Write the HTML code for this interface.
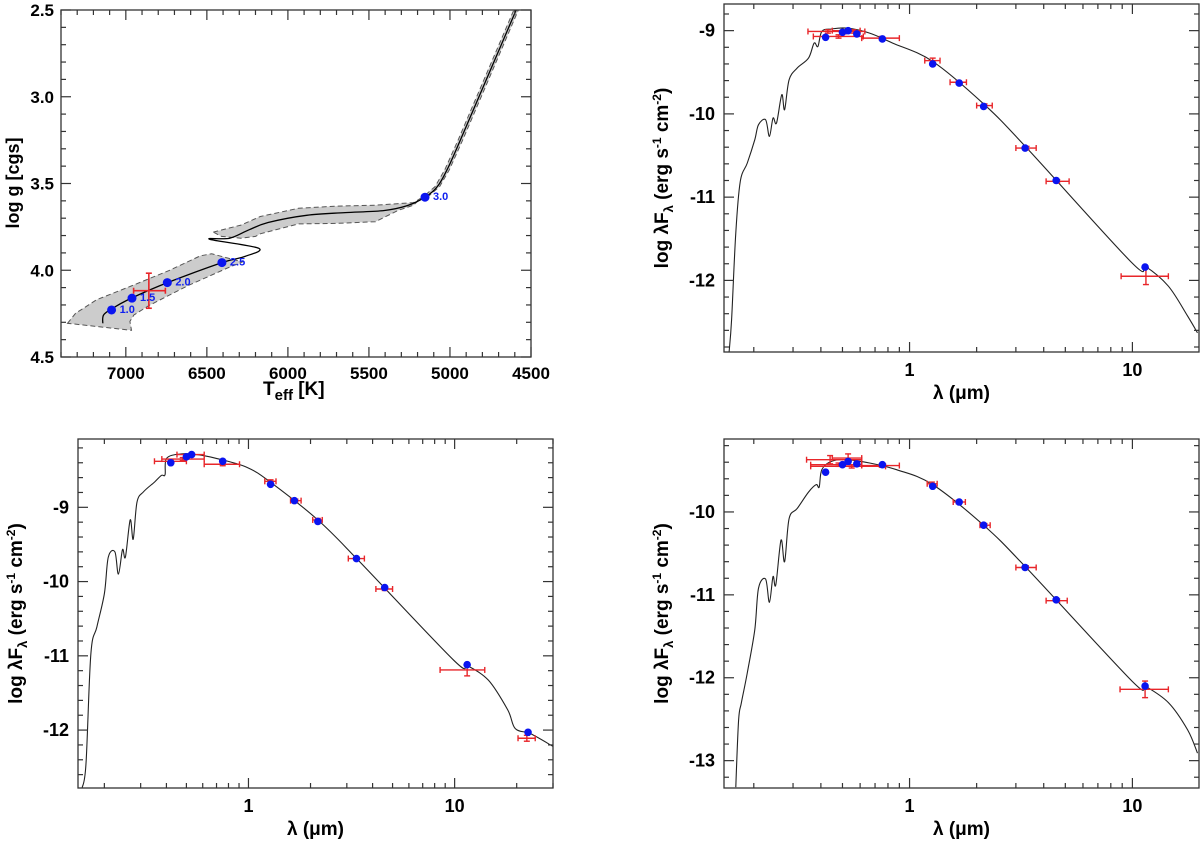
<!DOCTYPE html>
<html><head><meta charset="utf-8"><style>
html,body{margin:0;padding:0;background:#fff;}
svg{display:block;font-family:"Liberation Sans",Arial,sans-serif;}
</style></head><body>
<svg id="fig" width="1200" height="847" viewBox="0 0 1200 847" xmlns="http://www.w3.org/2000/svg"></svg>
<script>
// ---------- HR diagram data ----------
const trackT = [7142,7137,7083,6964,6739,6407,6264,6181,6483,6359,6240,6122,5884,5647,5410,5268,5154,5078,5018,4935,4591];
const trackG = [4.306,4.258,4.22,4.16,4.07,3.956,3.92,3.873,3.821,3.815,3.767,3.725,3.683,3.668,3.656,3.629,3.579,3.518,3.421,3.248,2.498];
const msBandT = [7360,7310,7180,6965,6730,6540,6470,6280,6380,6620,6860,6950,6975,6965,7360];
const msBandG = [4.306,4.248,4.17,4.09,4.0,3.917,3.905,3.952,3.99,4.09,4.205,4.258,4.295,4.346,4.306];
const sgBandT = [6460,6290,6170,5935,5700,5460,5225,5180,5225,5320,5460,5700,5935,6170,6200,6290,6410];
const sgBandG = [3.78,3.74,3.69,3.643,3.63,3.625,3.61,3.585,3.625,3.655,3.72,3.73,3.733,3.79,3.805,3.815,3.805];
const massT = [7088,6962,6744,6407,5154];
const massG = [4.229,4.161,4.071,3.956,3.579];
const massLab = ["1.0","1.5","2.0","2.5","3.0"];
const obsT = [6858]; const obsTlo=[6952]; const obsThi=[6756];
const obsG = [4.118]; const obsGlo=[4.017]; const obsGhi=[4.219];

// ---------- SED panel B (top right) ----------
const bModLam = [0.155,0.159,0.166,0.174,0.187,0.202,0.21,0.226,0.235,0.244,0.253,0.267,0.275,0.288,0.313,0.352,0.373,0.388,0.404,0.446,0.522,0.662,0.84,1.27,2.17,3.36,9.96,11.4,14.5,17.7,19.6];
const bModF = [-12.86,-12.47,-11.43,-10.81,-10.59,-10.31,-10.13,-10.07,-10.27,-10.05,-10.11,-9.77,-9.95,-9.59,-9.45,-9.33,-9.15,-9.19,-9.01,-8.98,-8.97,-9.03,-9.15,-9.37,-9.89,-10.41,-11.79,-11.83,-12.07,-12.43,-12.63];
const bDotLam = [0.42,0.50,0.53,0.58,0.755,1.27,1.67,2.15,3.3,4.55,11.4];
const bDotF = [-9.08,-9.02,-9.0,-9.04,-9.1,-9.4,-9.63,-9.91,-10.41,-10.8,-11.84];
const bObsLam = [0.43,0.48,0.53,0.56,0.75,1.27,1.66,2.17,3.35,4.6,11.5];
const bObsF = [-9.01,-9.07,-9.0,-9.01,-9.09,-9.36,-9.62,-9.9,-10.41,-10.81,-11.95];
const bObsLo = [0.35,0.37,0.45,0.50,0.61,1.17,1.52,2.0,3.0,4.1,8.9];
const bObsHi = [0.52,0.62,0.60,0.63,0.90,1.37,1.80,2.35,3.7,5.2,14.5];
const bObsErr = [0.02,0.02,0.02,0.02,0.02,0.03,0.02,0.02,0.02,0.02,0.1];

// ---------- SED panel C (bottom left) ----------
const cModLam = [0.156,0.163,0.172,0.184,0.20,0.209,0.225,0.234,0.245,0.253,0.267,0.276,0.288,0.31,0.35,0.378,0.394,0.401,0.472,0.561,0.695,0.98,1.29,2.17,3.40,9.91,11.5,14.6,18.1,19.7,23.4,30];
const cModF = [-12.78,-12.45,-10.97,-10.61,-10.16,-9.67,-9.60,-9.90,-9.57,-9.67,-9.17,-9.43,-8.93,-8.79,-8.66,-8.57,-8.56,-8.34,-8.28,-8.29,-8.34,-8.46,-8.67,-9.17,-9.71,-11.06,-11.13,-11.33,-11.73,-11.98,-12.05,-12.22];
const cDotLam = [0.42,0.50,0.53,0.75,1.28,1.67,2.17,3.34,4.58,11.5,22.7];
const cDotF = [-8.40,-8.32,-8.29,-8.38,-8.69,-8.91,-9.19,-9.69,-10.08,-11.12,-12.03];
const cObsLam = [0.42,0.48,0.53,0.75,1.28,1.69,2.17,3.34,4.58,11.5,22.4];
const cObsF = [-8.38,-8.35,-8.29,-8.42,-8.65,-8.91,-9.17,-9.69,-10.1,-11.19,-12.11];
const cObsLo = [0.35,0.38,0.45,0.61,1.2,1.6,2.05,3.05,4.15,8.5,20.3];
const cObsHi = [0.50,0.61,0.61,0.905,1.36,1.8,2.28,3.65,5.0,14.0,24.6];
const cObsErr = [0.02,0.02,0.02,0.02,0.02,0.02,0.02,0.02,0.02,0.08,0.04];

// ---------- SED panel D (bottom right) ----------
const dModLam = [0.166,0.171,0.176,0.187,0.202,0.21,0.226,0.235,0.244,0.251,0.265,0.275,0.288,0.313,0.352,0.381,0.393,0.404,0.446,0.522,0.662,0.875,1.27,2.17,3.36,9.96,11.4,14.5,17.7,19.6];
const dModF = [-13.32,-12.51,-12.30,-11.94,-11.42,-10.92,-10.81,-11.09,-10.78,-10.88,-10.34,-10.60,-10.08,-9.96,-9.76,-9.67,-9.70,-9.49,-9.39,-9.37,-9.41,-9.49,-9.67,-10.17,-10.68,-12.04,-12.10,-12.30,-12.63,-12.91];
const dDotLam = [0.42,0.50,0.53,0.58,0.755,1.27,1.67,2.15,3.3,4.55,11.4];
const dDotF = [-9.52,-9.43,-9.39,-9.42,-9.43,-9.69,-9.88,-10.16,-10.67,-11.06,-12.10];
const dObsLam = [0.44,0.48,0.53,0.55,0.75,1.26,1.66,2.17,3.33,4.6,11.4];
const dObsF = [-9.37,-9.43,-9.35,-9.45,-9.44,-9.66,-9.88,-10.16,-10.67,-11.07,-12.14];
const dObsLo = [0.345,0.36,0.45,0.36,0.61,1.2,1.57,2.07,3.0,4.1,8.8];
const dObsHi = [0.61,0.61,0.61,0.78,0.90,1.33,1.78,2.3,3.7,5.1,14.5];
const dObsErr = [0.05,0.02,0.05,0.02,0.02,0.02,0.02,0.02,0.02,0.02,0.1];

const NS = "http://www.w3.org/2000/svg";
const svg = document.getElementById('fig');
function mk(tag, attrs, parent){ const e=document.createElementNS(NS,tag); for(const k in attrs) e.setAttribute(k,attrs[k]); (parent||svg).appendChild(e); return e; }
function smooth(pts){
  let d='M'+pts[0][0].toFixed(1)+','+pts[0][1].toFixed(1);
  for(let i=0;i<pts.length-1;i++){
    const p0=pts[Math.max(0,i-1)],p1=pts[i],p2=pts[i+1],p3=pts[Math.min(pts.length-1,i+2)];
    const c1=[p1[0]+(p2[0]-p0[0])/6,p1[1]+(p2[1]-p0[1])/6];
    const c2=[p2[0]-(p3[0]-p1[0])/6,p2[1]-(p3[1]-p1[1])/6];
    d+=' C'+c1[0].toFixed(1)+','+c1[1].toFixed(1)+' '+c2[0].toFixed(1)+','+c2[1].toFixed(1)+' '+p2[0].toFixed(1)+','+p2[1].toFixed(1);
  }
  return d;
}

function frame(g, b){
  const r = mk('rect',{x:b.x0,y:b.y0,width:b.x1-b.x0,height:b.y1-b.y0,fill:'none',stroke:'#333','stroke-width':1.3},g);
  
  
}
function tick(g,x1,y1,x2,y2){ mk('line',{x1:x1,y1:y1,x2:x2,y2:y2,stroke:'#333','stroke-width':1.2},g); }
function label(g,x,y,txt,anchor,name,size){
  const t=mk('text',{x:x,y:y,'text-anchor':anchor,'font-size':size||17,'font-weight':'bold',fill:'#000'},g);
  t.textContent=txt;
  
  
  return t;
}

// ---------- Panel A: HR diagram ----------
(function(){
  const g=mk('g',{});
  
  
  const b={x0:61,x1:531,y0:10,y1:357};
  const Tl=7400,Tr=4500,Gt=2.5,Gb=4.5;
  const X=T=>b.x0+(Tl-T)/(Tl-Tr)*(b.x1-b.x0);
  const Y=v=>b.y0+(v-Gt)/(Gb-Gt)*(b.y1-b.y0);
  const poly=(ts,gs)=>ts.map((t,i)=>X(t).toFixed(1)+','+Y(gs[i]).toFixed(1)).join(' ');
  const clip=mk('clipPath',{id:'clipA'},g); mk('rect',{x:b.x0,y:b.y0,width:b.x1-b.x0,height:b.y1-b.y0},clip);
  const inner=mk('g',{'clip-path':'url(#clipA)'},g);
  const ms=mk('polygon',{points:poly(msBandT,msBandG),fill:'#cccccc',stroke:'#555','stroke-width':1,'stroke-dasharray':'5,3'},inner);
  
  
  const sg=mk('polygon',{points:poly(sgBandT,sgBandG),fill:'#cccccc',stroke:'#555','stroke-width':1,'stroke-dasharray':'5,3'},inner);
  
  
  const rT=trackT.slice(16), rG=trackG.slice(16);
  const rgbPts=rT.map((t,i)=>X(t-14)+','+Y(rG[i])).concat(rT.slice().reverse().map((t,i)=>X(t+14)+','+Y(rG[rG.length-1-i])));
  const rgb=mk('polygon',{points:rgbPts.join(' '),fill:'#cccccc',stroke:'#555','stroke-width':1,'stroke-dasharray':'5,3'},inner);
  
  
  const tr=mk('path',{d:smooth(trackT.map((t,i)=>[X(t),Y(trackG[i])])),fill:'none',stroke:'#000','stroke-width':1.3},inner);
  
  
  const ox=X(obsT[0]),oy=Y(obsG[0]);
  const eg=mk('g',{stroke:'#e8262a','stroke-width':1.6},inner);
  
  
  mk('line',{x1:X(obsTlo[0]),y1:oy,x2:X(obsThi[0]),y2:oy},eg);
  mk('line',{x1:ox,y1:Y(obsGlo[0]),x2:ox,y2:Y(obsGhi[0])},eg);
  mk('line',{x1:X(obsTlo[0]),y1:oy-3,x2:X(obsTlo[0]),y2:oy+3},eg);
  mk('line',{x1:X(obsThi[0]),y1:oy-3,x2:X(obsThi[0]),y2:oy+3},eg);
  mk('line',{x1:ox-3,y1:Y(obsGlo[0]),x2:ox+3,y2:Y(obsGlo[0])},eg);
  mk('line',{x1:ox-3,y1:Y(obsGhi[0]),x2:ox+3,y2:Y(obsGhi[0])},eg);
  massT.forEach((t,i)=>{
    const c=mk('circle',{cx:X(t),cy:Y(massG[i]),r:4.5,fill:'#0a14f0'},inner);
    
    
    const l=mk('text',{x:X(t)+8,y:Y(massG[i])+3,'font-size':11,'font-weight':'bold',fill:'#1020f0'},inner);
    l.textContent=massLab[i];
    
    
  });
  frame(g,b);
  for(let v=2.5;v<=4.501;v+=0.1){
    const y=Y(v); const maj=Math.abs(v*2-Math.round(v*2))<0.01; const L=maj?10:5;
    tick(g,b.x0,y,b.x0+L,y); tick(g,b.x1,y,b.x1-L,y);
    if(maj) label(g,54,y+6,v.toFixed(1),'end','y-tick-label');
  }
  for(let T=7400;T>=4500;T-=100){
    const x=X(T); const maj=T%500===0; const L=maj?10:5;
    tick(g,x,b.y1,x,b.y1-L); tick(g,x,b.y0,x,b.y0+L);
    if(maj) label(g,x,379,String(T),'middle','x-tick-label');
  }
  const xl=mk('text',{x:263,y:395,'font-size':19,'font-weight':'bold'},g);
  xl.innerHTML='T<tspan font-size="15" dy="5">eff</tspan><tspan dy="-5"> [K]</tspan>';
  
  
  const yl=mk('text',{x:0,y:0,'font-size':18,'font-weight':'bold','text-anchor':'middle',transform:'translate(19,183) rotate(-90)'},g);
  yl.textContent='log g [cgs]';
  
  
})();

// ---------- SED panels ----------
function sed(id,b,lam0,lam1,F0,F1,yticks,labRight,ylabX,mLam,mF,dLam,dF,oLam,oF,oLo,oHi,oErr){
  const g=mk('g',{});
  
  
  const l0=Math.log10(lam0),l1=Math.log10(lam1);
  const X=l=>b.x0+(Math.log10(l)-l0)/(l1-l0)*(b.x1-b.x0);
  const Y=v=>b.y0+(F0-v)/(F0-F1)*(b.y1-b.y0);
  const cid='clip'+id;
  const clip=mk('clipPath',{id:cid},g); mk('rect',{x:b.x0,y:b.y0,width:b.x1-b.x0,height:b.y1-b.y0},clip);
  const inner=mk('g',{'clip-path':'url(#'+cid+')'},g);
  const m=mk('path',{d:smooth(mLam.map((l,i)=>[X(l),Y(mF[i])])),fill:'none',stroke:'#222','stroke-width':1.1},inner);
  
  
  oLam.forEach((l,i)=>{
    const e=mk('g',{stroke:'#e8262a','stroke-width':1.4},inner);
    
    
    const x=X(l),y=Y(oF[i]),xa=X(oLo[i]),xb=X(oHi[i]),ya=Y(oF[i]+oErr[i]),yb=Y(oF[i]-oErr[i]);
    mk('line',{x1:xa,y1:y,x2:xb,y2:y},e);
    mk('line',{x1:xa,y1:y-3,x2:xa,y2:y+3},e);
    mk('line',{x1:xb,y1:y-3,x2:xb,y2:y+3},e);
    mk('line',{x1:x,y1:ya-0.5,x2:x,y2:yb+0.5},e);
    mk('line',{x1:x-3,y1:ya,x2:x+3,y2:ya},e);
    mk('line',{x1:x-3,y1:yb,x2:x+3,y2:yb},e);
  });
  dLam.forEach((l,i)=>{
    const c=mk('circle',{cx:X(l),cy:Y(dF[i]),r:3.8,fill:'#0a14f0'},inner);
    
    
  });
  frame(g,b);
  for(let v=Math.ceil(F1*5)/5; v<=F0+1e-6; v+=0.2){
    const y=Y(v); const maj=Math.abs(v-Math.round(v))<0.01; const L=maj?10:5;
    tick(g,b.x0,y,b.x0+L,y); tick(g,b.x1,y,b.x1-L,y);
  }
  yticks.forEach(v=>label(g,labRight,Y(v)+6,String(v),'end','y-tick-label',18));
  for(let dec=-1;dec<=1;dec++){
    for(let k=1;k<=9;k++){
      const l=k*Math.pow(10,dec); if(l<lam0||l>lam1) continue;
      const x=X(l); const L=k===1?10:5;
      tick(g,x,b.y1,x,b.y1-L); tick(g,x,b.y0,x,b.y0+L);
      if(k===1) label(g,x,b.y1+24,String(l),'middle','x-tick-label',18);
    }
  }
  const xl=mk('text',{x:(b.x0+b.x1)/2,y:b.y1+47,'font-size':19,'font-weight':'bold','text-anchor':'middle'},g);
  xl.textContent='λ (μm)';
  
  
  const yl=mk('text',{x:0,y:0,'font-size':19,'font-weight':'bold','text-anchor':'middle',transform:'translate('+ylabX+','+((b.y0+b.y1)/2)+') rotate(-90)'},g);
  yl.innerHTML='log λF<tspan font-size="13" dy="5">λ</tspan><tspan dy="-5"> (erg s</tspan><tspan font-size="12" dy="-7">-1</tspan><tspan dy="7"> cm</tspan><tspan font-size="12" dy="-7">-2</tspan><tspan dy="7">)</tspan>';
  
  
}
sed('sed-panel-top-right',{x0:724,x1:1199,y0:4,y1:352},0.147,19.9,-8.68,-12.86,[-9,-10,-11,-12],715,668,bModLam,bModF,bDotLam,bDotF,bObsLam,bObsF,bObsLo,bObsHi,bObsErr);
sed('sed-panel-bottom-left',{x0:78,x1:553,y0:439,y1:788},0.149,30,-8.08,-12.78,[-9,-10,-11,-12],69,22,cModLam,cModF,cDotLam,cDotF,cObsLam,cObsF,cObsLo,cObsHi,cObsErr);
sed('sed-panel-bottom-right',{x0:724,x1:1199,y0:439,y1:788},0.147,19.9,-9.12,-13.33,[-10,-11,-12,-13],715,668,dModLam,dModF,dDotLam,dDotF,dObsLam,dObsF,dObsLo,dObsHi,dObsErr);
</script>
</body></html>
